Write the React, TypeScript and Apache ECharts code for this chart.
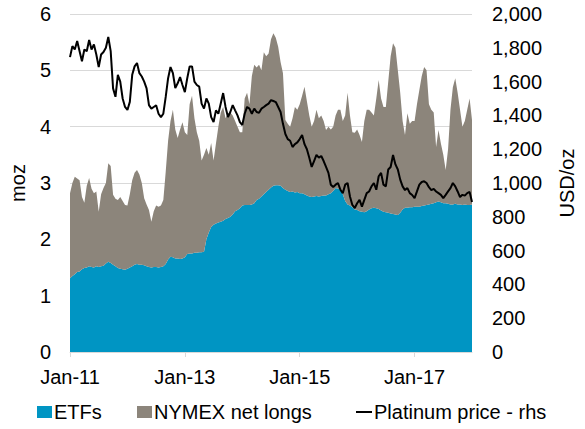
import React, { useEffect, useRef } from "react";
import * as echarts from "echarts";

const MONTHS = ["Jan", "Feb", "Mar", "Apr", "May", "Jun", "Jul", "Aug", "Sep", "Oct", "Nov", "Dec"];

// half-monthly observation dates, Jan 2011 -> Jan 2018
const periods: string[] = [];
for (let y = 2011; y <= 2018; y++) {
  for (let m = 1; m <= 12; m++) {
    for (const d of ["01", "16"]) {
      if (periods.length < 169) periods.push(`${y}-${String(m).padStart(2, "0")}-${d}`);
    }
  }
}

// moz
const etfs = [
  1.31, 1.35, 1.38, 1.42, 1.43, 1.47, 1.49, 1.50, 1.52, 1.51,
  1.50, 1.52, 1.51, 1.52, 1.53, 1.57, 1.60, 1.58, 1.55, 1.52,
  1.49, 1.48, 1.47, 1.46, 1.48, 1.50, 1.52, 1.55, 1.56, 1.55,
  1.55, 1.54, 1.52, 1.51, 1.50, 1.51, 1.51, 1.50, 1.51, 1.52,
  1.56, 1.64, 1.69, 1.68, 1.66, 1.66, 1.65, 1.66, 1.68, 1.74,
  1.75, 1.75, 1.76, 1.76, 1.77, 1.77, 1.78, 2.00, 2.12, 2.22,
  2.26, 2.28, 2.30, 2.31, 2.33, 2.36, 2.38, 2.40, 2.44, 2.50,
  2.52, 2.55, 2.60, 2.61, 2.61, 2.61, 2.62, 2.64, 2.70, 2.72,
  2.76, 2.80, 2.84, 2.88, 2.92, 2.95, 2.96, 2.96, 2.95, 2.91,
  2.88, 2.86, 2.84, 2.85, 2.83, 2.84, 2.82, 2.82, 2.80, 2.78,
  2.76, 2.75, 2.76, 2.77, 2.76, 2.77, 2.78, 2.78, 2.80, 2.82,
  2.86, 2.91, 2.90, 2.88, 2.80, 2.68, 2.62, 2.60, 2.57, 2.53,
  2.52, 2.50, 2.49, 2.48, 2.50, 2.53, 2.55, 2.56, 2.55, 2.54,
  2.51, 2.49, 2.48, 2.47, 2.46, 2.45, 2.44, 2.43, 2.47, 2.53,
  2.56, 2.56, 2.57, 2.57, 2.58, 2.58, 2.58, 2.59, 2.60, 2.61,
  2.62, 2.63, 2.64, 2.66, 2.67, 2.66, 2.64, 2.64, 2.63, 2.62,
  2.62, 2.63, 2.62, 2.62, 2.61, 2.62, 2.61, 2.61, 2.62,
];

// moz
const nymexNetLongs = [
  1.51, 1.65, 1.73, 1.66, 1.62, 1.28, 1.16, 1.45, 1.57, 1.39,
  1.32, 1.33, 0.98, 1.28, 1.38, 1.43, 1.75, 1.72, 1.24, 1.20,
  1.21, 1.27, 1.21, 1.15, 1.12, 1.30, 1.53, 1.63, 1.67, 1.60,
  1.45, 1.19, 1.10, 1.01, 0.81, 0.99, 1.09, 1.08, 1.09, 1.18,
  1.64, 2.11, 2.41, 2.62, 2.29, 2.14, 2.30, 2.42, 2.22, 2.11,
  2.65, 2.80, 2.39, 2.14, 1.98, 1.63, 1.72, 1.62, 1.38, 1.49,
  1.14, 1.42, 1.70, 1.94, 2.02, 1.79, 1.86, 1.85, 1.76, 1.60,
  1.48, 1.35, 1.30, 1.89, 1.99, 1.79, 2.28, 2.46, 2.35, 2.38,
  2.24, 2.52, 2.41, 2.42, 2.63, 2.71, 2.62, 2.46, 2.20, 2.04,
  1.24, 1.19, 1.16, 1.30, 1.52, 1.46, 1.58, 1.73, 1.91, 1.67,
  1.44, 1.25, 1.34, 1.53, 1.39, 1.43, 1.32, 1.16, 1.20, 1.13,
  1.14, 1.29, 1.40, 1.42, 1.30, 1.52, 1.98, 1.60, 1.33, 1.36,
  1.43, 1.35, 1.24, 1.62, 1.80, 1.77, 1.70, 1.64, 1.95, 2.29,
  1.99, 1.86, 1.87, 2.33, 2.79, 3.03, 2.96, 2.57, 2.13, 1.57,
  1.29, 1.68, 1.48, 1.53, 1.52, 1.82, 2.07, 2.31, 2.46, 2.39,
  1.78, 1.67, 1.61, 0.98, 1.27, 1.04, 0.86, 0.59, 0.97, 1.68,
  2.08, 2.23, 1.98, 1.68, 1.39, 1.48, 1.69, 1.89, 1.50,
];

// USD/oz
const platinumPrice = [
  1745, 1810, 1790, 1840, 1780, 1720, 1790, 1780, 1846, 1790,
  1820, 1760, 1686, 1760, 1775, 1800, 1864, 1780, 1560, 1510,
  1640, 1600, 1500, 1450, 1432, 1480, 1640, 1690, 1710, 1650,
  1630, 1600, 1560, 1461, 1440, 1450, 1460, 1410, 1390, 1410,
  1509, 1620, 1686, 1650, 1562, 1590, 1627, 1580, 1538, 1620,
  1690, 1690, 1600, 1580, 1570, 1470, 1440, 1500, 1470, 1390,
  1361, 1430, 1410, 1470, 1532, 1450, 1390, 1420, 1461, 1430,
  1400, 1360, 1343, 1410, 1450, 1440, 1410, 1440, 1420, 1415,
  1440, 1450, 1461, 1470, 1490, 1485, 1479, 1450, 1420, 1350,
  1290, 1260, 1250, 1213, 1230, 1240, 1260, 1284, 1230, 1200,
  1150, 1095, 1130, 1166, 1150, 1160, 1130, 1095, 1060, 990,
  976, 990, 1000, 960, 940, 990, 1000, 920, 870, 852,
  880, 900, 860, 900, 940, 950, 980, 1000, 960, 1040,
  1060, 990, 980, 1080, 1095, 1166, 1110, 1080, 1020, 980,
  958, 970, 940, 929, 911, 950, 990, 1006, 1010, 1000,
  975, 958, 965, 950, 940, 930, 911, 930, 950, 970,
  1000, 980, 950, 917, 930, 925, 940, 947, 888,
];

const SERIES_NAMES = ["ETFs", "NYMEX net longs", "Platinum price - rhs"];
const BLUE = "#0095C3";
const GREY = "#8C857B";
const FONT = "'Liberation Sans', Arial, sans-serif";

const isLabelIdx = (idx: number) => idx % 48 === 0;
const fmtDate = (v: string) => {
  const [y, m] = v.split("-");
  return `${MONTHS[Number(m) - 1]}-${y.slice(2)}`;
};

export default function App() {
  const ref = useRef<HTMLDivElement>(null);
  useEffect(() => {
    document.body.style.margin = "0";
    if (!ref.current) return;
    const chart = echarts.init(ref.current, undefined, { renderer: "svg" });
    const text = { fontFamily: FONT, fontSize: 20, color: "#000" };
    const legendBase = { top: 402, padding: 0, itemGap: 0, textStyle: { ...text, padding: [0, 0, 0, -3] } };
    chart.setOption({
      animation: false,
      textStyle: { fontFamily: FONT },
      grid: { left: 64, right: 108, top: 14, bottom: 77, containLabel: false },
      legend: [
        { ...legendBase, data: [{ name: SERIES_NAMES[0], icon: "rect" }], left: 37, itemWidth: 15, itemHeight: 12 },
        { ...legendBase, data: [{ name: SERIES_NAMES[1], icon: "rect" }], left: 137, itemWidth: 15, itemHeight: 12 },
        { ...legendBase, data: [{ name: SERIES_NAMES[2], icon: "rect" }], left: 356, itemWidth: 16, itemHeight: 2 },
      ],
      xAxis: {
        type: "category",
        data: periods,
        boundaryGap: false,
        axisLine: { show: true, lineStyle: { color: "#D9D9D9", width: 1 } },
        axisTick: { show: true, interval: (i: number) => isLabelIdx(i), length: 5, lineStyle: { color: "#D9D9D9" } },
        axisLabel: { ...text, interval: (i: number) => isLabelIdx(i), margin: 15, formatter: fmtDate },
        splitLine: { show: false },
      },
      yAxis: [
        {
          type: "value",
          position: "left",
          min: 0, max: 6, interval: 1,
          name: "moz", nameLocation: "middle", nameRotate: 90, nameGap: 42,
          nameTextStyle: text,
          axisLine: { show: false }, axisTick: { show: false },
          axisLabel: { ...text, margin: 19 },
          splitLine: { show: true, lineStyle: { color: "#D9D9D9", width: 1 } },
        },
        {
          type: "value",
          position: "right",
          min: 0, max: 2000, interval: 200,
          name: "USD/oz", nameLocation: "middle", nameRotate: 90, nameGap: 85,
          nameTextStyle: text,
          axisLine: { show: false }, axisTick: { show: false },
          axisLabel: { ...text, margin: 20, formatter: (v: number) => v.toLocaleString("en-US") },
          splitLine: { show: false },
        },
      ],
      series: [
        {
          name: SERIES_NAMES[0], type: "line", stack: "total", yAxisIndex: 0,
          data: etfs, symbol: "none", color: BLUE,
          lineStyle: { width: 0, color: BLUE }, areaStyle: { color: BLUE, opacity: 1 },
        },
        {
          name: SERIES_NAMES[1], type: "line", stack: "total", yAxisIndex: 0,
          data: nymexNetLongs, symbol: "none", color: GREY,
          lineStyle: { width: 0, color: GREY }, areaStyle: { color: GREY, opacity: 1 },
        },
        {
          name: SERIES_NAMES[2], type: "line", yAxisIndex: 1,
          data: platinumPrice, symbol: "none", color: "#000",
          lineStyle: { width: 2, color: "#000" },
        },
      ],
    });
    return () => chart.dispose();
  }, []);
  return <div ref={ref} style={{ width: 585, height: 429 }} />;
}
